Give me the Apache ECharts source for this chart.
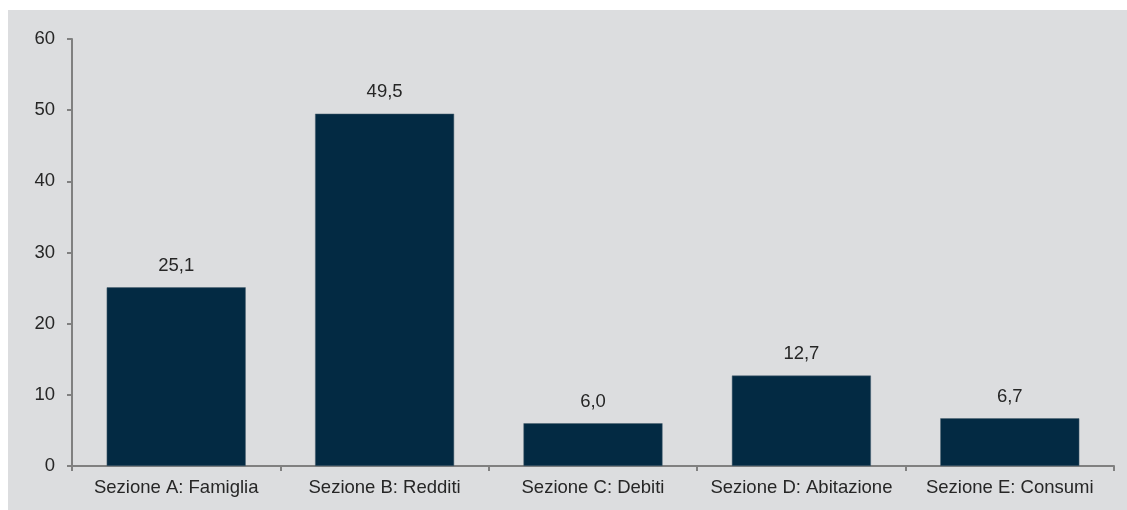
<!DOCTYPE html>
<html>
<head>
<meta charset="utf-8">
<script src="https://cdn.jsdelivr.net/npm/echarts@6/dist/echarts.min.js"></script>
<style>
html,body{margin:0;padding:0;background:#ffffff;}
#c{width:1127px;height:510px;}
</style>
</head>
<body>
<div id="c"></div>
<script>
var categories = ['Sezione A: Famiglia', 'Sezione B: Redditi', 'Sezione C: Debiti', 'Sezione D: Abitazione', 'Sezione E: Consumi'];
var values = [25.1, 49.5, 6.0, 12.7, 6.7];
var yTicks = [0, 10, 20, 30, 40, 50, 60];

var chart = echarts.init(document.getElementById('c'), null, {renderer: 'canvas'});
var font = 'Liberation Sans, Arial, sans-serif';
chart.setOption({
  animation: false,
  backgroundColor: '#ffffff',
  graphic: [{
    type: 'rect', z: -10, silent: true,
    shape: {x: 8, y: 10, width: 1119, height: 500},
    style: {fill: '#dcdddf'}
  }],
  grid: {left: 72, right: 13, top: 39, bottom: 44, containLabel: false},
  xAxis: {
    type: 'category',
    data: categories,
    axisLine: {lineStyle: {color: '#808080', width: 2}},
    axisTick: {show: true, alignWithLabel: false, length: 5, lineStyle: {color: '#808080', width: 2}},
    axisLabel: {color: '#262626', fontSize: 18.5, fontFamily: font, margin: 12, interval: 0},
    splitLine: {show: false}
  },
  yAxis: {
    type: 'value',
    min: yTicks[0], max: yTicks[yTicks.length - 1], interval: 10,
    axisLine: {show: true, lineStyle: {color: '#808080', width: 2}},
    axisTick: {show: true, length: 5, lineStyle: {color: '#808080', width: 2}},
    axisLabel: {color: '#262626', fontSize: 18.5, fontFamily: font, margin: 17},
    splitLine: {show: false}
  },
  series: [{
    type: 'bar',
    data: values,
    barCategoryGap: '33.3%',
    itemStyle: {color: '#032a43', borderColor: '#4a6070', borderWidth: 0.5},
    label: {
      show: true, position: 'top', distance: 12,
      color: '#262626', fontSize: 18.5, fontFamily: font,
      formatter: function (p) { return p.value.toFixed(1).replace('.', ','); }
    }
  }]
});
</script>
</body>
</html>
